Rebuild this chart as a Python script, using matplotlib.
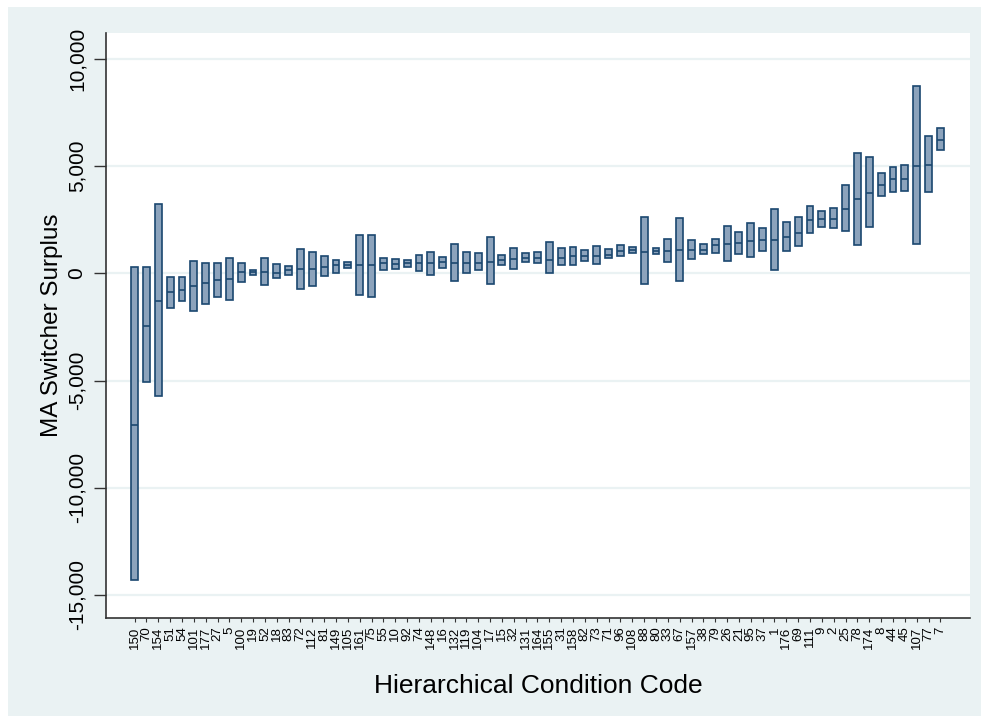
import matplotlib
matplotlib.use("Agg")
import matplotlib.pyplot as plt
from matplotlib.patches import Rectangle
from matplotlib.ticker import FuncFormatter

plt.rcParams['font.family'] = ['Liberation Sans', 'DejaVu Sans']

codes = ["150", "70", "154", "51", "54", "101", "177", "27", "5", "100",
         "19", "52", "18", "83", "72", "112", "81", "149", "105", "161",
         "75", "55", "10", "92", "74", "148", "16", "132", "119", "104",
         "17", "15", "32", "131", "164", "155", "31", "158", "82", "73",
         "71", "96", "108", "88", "80", "33", "67", "157", "38", "79",
         "26", "21", "95", "37", "1", "176", "69", "111", "9", "2",
         "25", "78", "174", "8", "44", "45", "107", "77", "7"]

high = [300, 290, 3220, -190, -160, 560, 480, 480, 720, 500,
        170, 720, 440, 340, 1160, 1020, 830, 640, 520, 1810,
        1810, 730, 660, 640, 880, 1020, 780, 1390, 1020, 970,
        1690, 880, 1170, 940, 1020, 1450, 1170, 1230, 1080, 1270,
        1160, 1330, 1230, 2625, 1200, 1590, 2580, 1580, 1375, 1610,
        2200, 1950, 2360, 2140, 3020, 2410, 2640, 3150, 2920, 3060,
        4100, 5620, 5420, 4660, 4950, 5050, 8760, 6430, 6790]

median = [-7050, -2440, -1280, -860, -770, -580, -470, -310, -280, 50,
          60, 60, 0, 160, 200, 200, 310, 390, 390, 390,
          390, 480, 450, 480, 470, 480, 520, 470, 480, 480,
          520, 630, 660, 730, 730, 640, 730, 800, 800, 830,
          880, 1060, 1080, 1020, 1060, 1060, 1090, 1080, 1080, 1340,
          1375, 1420, 1520, 1550, 1550, 1700, 1900, 2500, 2520, 2520,
          3010, 3450, 3760, 4130, 4380, 4390, 5030, 5060, 6240]

low = [-14300, -5080, -5740, -1600, -1310, -1750, -1450, -1090, -1230, -420,
       -60, -560, -200, -60, -730, -580, -120, 20, 230, -1020,
       -1110, 160, 220, 310, 130, -60, 230, -360, 20, 180,
       -500, 380, 220, 530, 480, 20, 390, 390, 560, 450,
       720, 800, 930, -480, 920, 520, -360, 690, 910, 970,
       590, 910, 780, 1050, 160, 1050, 1290, 1880, 2170, 2100,
       2000, 1340, 2160, 3630, 3790, 3840, 1350, 3790, 5750]

yticks = [10000, 5000, 0, -5000, -10000, -15000]

edge = '#1A476F'
fill = '#8CA3BC'
bg = '#EAF2F3'

fig = plt.figure(figsize=(9.84, 7.23), dpi=100, facecolor='white')
fig.patches.append(Rectangle((8 / 984, 7 / 723), (981 - 8) / 984, (716 - 7) / 723,
                             transform=fig.transFigure, facecolor=bg,
                             edgecolor='none', zorder=-10))

ax = fig.add_axes([106 / 984, 1 - 618 / 723, (970 - 106) / 984, (618 - 33) / 723])
ax.set_facecolor('white')

x = list(range(1, len(codes) + 1))
w = 0.58
heights = [h - l for h, l in zip(high, low)]
ax.bar(x, heights, bottom=low, width=w, color=fill, edgecolor=edge,
       linewidth=1.2, zorder=3)
ax.hlines(median, [xi - w / 2 for xi in x], [xi + w / 2 for xi in x],
          colors=edge, linewidth=1.2, zorder=4)

ax.set_xlim(-1.41, 71.5)
ax.set_ylim(-16073, 11213)

ax.set_yticks(yticks)
ax.yaxis.set_major_formatter(FuncFormatter(lambda v, p: '{:,.0f}'.format(v).replace('\u2212', '-')))
ax.tick_params(axis='y', labelsize=15, length=9, width=1, color='#333333',
               labelrotation=90, pad=5)
for lbl in ax.get_yticklabels():
    lbl.set_verticalalignment('center')
ax.grid(axis='y', color=bg, linewidth=1.6, zorder=0)
ax.set_axisbelow(True)

ax.set_xticks(x)
ax.set_xticklabels(codes, rotation=90, fontsize=9.5)
ax.tick_params(axis='x', length=3, width=0.8, color='#333333', pad=3)

for s in ['top', 'right']:
    ax.spines[s].set_visible(False)
for s in ['left', 'bottom']:
    ax.spines[s].set_color('#333333')
    ax.spines[s].set_linewidth(1.2)

ax.set_ylabel('MA Switcher Surplus', fontsize=17.5, labelpad=3)
ax.set_xlabel('Hierarchical Condition Code', fontsize=19, labelpad=18)

fig.savefig('out.png', dpi=100, facecolor='white')
